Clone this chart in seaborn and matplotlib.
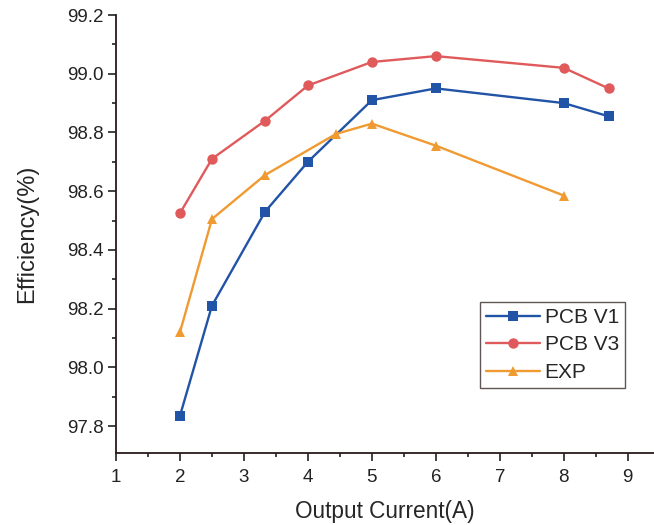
import pandas as pd
import matplotlib.pyplot as plt
import seaborn as sns
from matplotlib.ticker import MultipleLocator

# dados
v1_current = [2, 2.5, 3.33, 4, 5, 6, 8, 8.7]
v1_eff = [97.835, 98.21, 98.53, 98.70, 98.91, 98.95, 98.90, 98.855]

v3_current = [2, 2.5, 3.33, 4, 5, 6, 8, 8.7]
v3_eff = [98.525, 98.71, 98.84, 98.96, 99.04, 99.06, 99.02, 98.95]

exp_current = [2, 2.5, 3.33, 4.44, 5, 6, 8]
exp_eff = [98.12, 98.505, 98.655, 98.795, 98.83, 98.755, 98.585]

SERIES = ["PCB V1", "PCB V3", "EXP"]
COLORS = {"PCB V1": "#2153a6", "PCB V3": "#e05a5c", "EXP": "#f09a32"}
MARKERS = {"PCB V1": "s", "PCB V3": "o", "EXP": "^"}

df = pd.concat([
    pd.DataFrame({"I": v1_current, "eff": v1_eff, "serie": "PCB V1"}),
    pd.DataFrame({"I": v3_current, "eff": v3_eff, "serie": "PCB V3"}),
    pd.DataFrame({"I": exp_current, "eff": exp_eff, "serie": "EXP"}),
])

sns.set_theme(style="ticks")
plt.rcParams['font.family'] = ['Liberation Sans', 'DejaVu Sans']

fig = plt.figure(figsize=(6.54, 5.25), dpi=100)
ax = fig.add_axes([0.1774, 0.1371, 0.8226, 0.8343])

sns.lineplot(
    data=df, x="I", y="eff", hue="serie", style="serie",
    hue_order=SERIES, style_order=SERIES,
    palette=COLORS, markers=MARKERS, dashes=False,
    linewidth=1.7, markersize=7.5, markeredgewidth=0,
    sort=False, ax=ax
)

ax.set_xlim(1, 9.41)
ax.set_ylim(97.708, 99.2)
ax.xaxis.set_major_locator(MultipleLocator(1))
ax.xaxis.set_minor_locator(MultipleLocator(0.5))
ax.yaxis.set_major_locator(MultipleLocator(0.2))
ax.yaxis.set_minor_locator(MultipleLocator(0.1))
ax.yaxis.set_major_formatter(plt.FormatStrFormatter('%.1f'))

ax.tick_params(which='major', direction='out', length=5.5, width=1.2, labelsize=13.5, colors='#222222')
ax.tick_params(which='minor', direction='out', length=3, width=1.2, colors='#222222')
ax.tick_params(axis='x', which='major', pad=6)
ax.tick_params(axis='y', which='major', pad=3.5)
for s in ['top', 'right']:
    ax.spines[s].set_visible(False)
for s in ['left', 'bottom']:
    ax.spines[s].set_linewidth(1.3)
    ax.spines[s].set_color('#2a1a1a')

ax.set_xlabel("Output Current(A)", fontsize=16.3, labelpad=10)
ax.set_ylabel("Efficiency(%)", fontsize=17, labelpad=21)

handles, labels = ax.get_legend_handles_labels()
leg = ax.legend(handles, labels, loc='upper left', bbox_to_anchor=(0.6766, 0.345),
                fontsize=15, frameon=True, fancybox=False, handlelength=2.6,
                handletextpad=0.2, borderpad=0.3, labelspacing=0.4, borderaxespad=0)
leg.get_frame().set_edgecolor('#3a2a2a')
leg.get_frame().set_linewidth(1.0)

fig.savefig("out.png", dpi=100)
